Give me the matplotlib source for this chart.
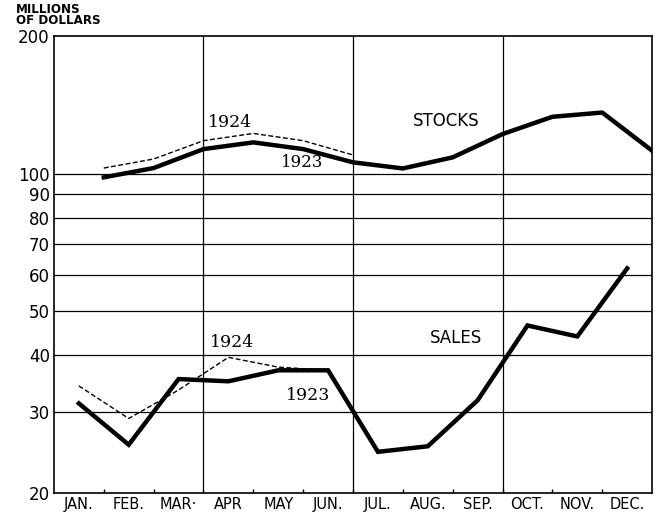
import matplotlib
matplotlib.use("Agg")
import matplotlib.pyplot as plt
import numpy as np

months = ["JAN.", "FEB.", "MAR·", "APR", "MAY", "JUN.", "JUL.", "AUG.",
          "SEP.", "OCT.", "NOV.", "DEC."]

# stocks are end-of-month figures, sales are monthly totals (mid-month)
stocks_1923 = [98.1, 102.8, 113.1, 117.0, 113.1, 105.8, 102.6, 108.5,
               122.0, 133.1, 136.0, 112.2]
stocks_1924 = [102.8, 107.6, 118.0, 122.4, 118.0, 109.8]
sales_1923 = [31.4, 25.5, 35.5, 35.1, 37.1, 37.1, 24.6, 25.3,
              31.9, 46.5, 44.0, 62.0]
sales_1924 = [34.3, 29.1, 33.6, 39.6, 37.7, 37.1]

y_ticks = [20, 30, 40, 50, 60, 70, 80, 90, 100, 200]
h_lines = [30, 40, 50, 60, 70, 80, 90, 100]

fig = plt.figure(figsize=(6.58, 5.14), dpi=100)
ax = fig.add_axes([0.082, 0.041, 0.909, 0.889])
ax.set_yscale("log")
ax.set_ylim(20, 200)
ax.set_xlim(0, 12)

for v in h_lines:
    ax.axhline(v, color="black", lw=0.9, zorder=1)
for q in (3, 6, 9):
    ax.axvline(q, color="black", lw=0.9, zorder=1)

x_end = np.arange(1, 13)
x_mid = np.arange(12) + 0.5

ax.plot(x_end, stocks_1923, color="black", lw=3.2, solid_joinstyle="round", zorder=3)
ax.plot(x_end[:len(stocks_1924)], stocks_1924, color="black", lw=1.0,
        ls=(0, (3.5, 1.8)), zorder=3)
ax.plot(x_mid, sales_1923, color="black", lw=3.2, solid_joinstyle="miter", zorder=3)
ax.plot(x_mid[:len(sales_1924)], sales_1924, color="black", lw=1.0,
        ls=(0, (3.5, 1.8)), zorder=3)

ax.set_yticks(y_ticks)
ax.set_yticklabels([str(v) for v in y_ticks])
ax.yaxis.set_minor_locator(matplotlib.ticker.NullLocator())
ax.tick_params(axis="y", length=0, pad=3, labelsize=12)

ax.set_xticks(x_mid)
ax.set_xticklabels(months)
ax.set_xticks(np.arange(1, 12), minor=True)
ax.tick_params(axis="x", which="major", length=0, pad=3, labelsize=10.5)
ax.tick_params(axis="x", which="minor", length=3, direction="in", width=1)

for s in ax.spines.values():
    s.set_linewidth(1.2)

serif = "DejaVu Serif"
ax.text(3.08, 124, "1924", fontsize=12.5, family=serif, ha="left", va="bottom")
ax.text(4.55, 101.3, "1923", fontsize=12, family=serif, ha="left", va="bottom")
ax.text(3.12, 40.8, "1924", fontsize=12.5, family=serif, ha="left", va="bottom")
ax.text(4.65, 31.3, "1923", fontsize=12.5, family=serif, ha="left", va="bottom")
ax.text(7.2, 124.5, "STOCKS", fontsize=12, ha="left", va="bottom")
ax.text(7.55, 41.8, "SALES", fontsize=12, ha="left", va="bottom")

fig.text(0.024, 0.995, "MILLIONS\nOF DOLLARS", fontsize=8.6, fontweight="bold",
         ha="left", va="top", linespacing=0.85)

fig.savefig("out.png", dpi=100)
